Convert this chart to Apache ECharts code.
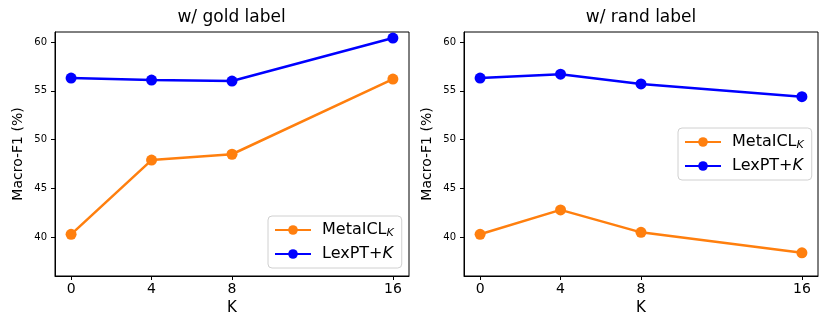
<!DOCTYPE html>
<html>
<head>
<meta charset="utf-8">
<script src="https://cdn.jsdelivr.net/npm/echarts@6/dist/echarts.min.js"></script>
<style>
  html, body { margin: 0; padding: 0; background: #fff; }
  #chart { width: 830px; height: 332px; }
</style>
</head>
<body>
<div id="chart"></div>
<script>
// K shots on the x axis
var kValues = [0, 4, 8, 16];
var xTicks = [0, 4, 8, 16];
var yTicks = [40, 45, 50, 55, 60];

// w/ gold label
var goldMetaICL = [40.3, 47.9, 48.5, 56.2];
var goldLexPT = [56.3, 56.1, 56.0, 60.4];

// w/ rand label
var randMetaICL = [40.3, 42.8, 40.5, 38.4];
var randLexPT = [56.3, 56.7, 55.7, 54.4];

var ORANGE = '#ff7f0e';
var BLUE = '#0000ff';
var FONT = 'DejaVu Sans';

function pairs(ys) {
    return kValues.map(function(k, i) { return [k, ys[i]]; });
}

function lineSeries(name, color, ys, idx) {
    return {
        name: name,
        type: 'line',
        xAxisIndex: idx,
        yAxisIndex: idx,
        data: pairs(ys),
        symbol: 'circle',
        symbolSize: 11,
        color: color,
        lineStyle: { color: color, width: 2.5 },
        itemStyle: { color: color },
        emphasis: { disabled: true },
        z: name === 'LexPT+K' ? 3 : 2
    };
}

function xAxisFor(idx) {
    return {
        type: 'value',
        gridIndex: idx,
        min: -0.8,
        max: 16.8,
        name: 'K',
        nameLocation: 'middle',
        nameGap: 25,
        nameTextStyle: { fontFamily: FONT, fontSize: 15, color: '#000' },
        axisLine: { show: true, onZero: false, lineStyle: { color: '#000', width: 1 } },
        axisTick: { show: true, length: 4, customValues: xTicks, lineStyle: { color: '#000' } },
        axisLabel: { customValues: xTicks, margin: 6, fontFamily: FONT, fontSize: 14, color: '#000' },
        splitLine: { show: false }
    };
}

function yAxisFor(idx) {
    return {
        type: 'value',
        gridIndex: idx,
        min: 36.03,
        max: 61.02,
        name: 'Macro-F1 (%)',
        nameLocation: 'middle',
        nameGap: 30,
        nameTextStyle: { fontFamily: FONT, fontSize: 14, color: '#000' },
        axisLine: { show: true, onZero: false, lineStyle: { color: '#000', width: 1 } },
        axisTick: { show: true, length: 4, customValues: yTicks, lineStyle: { color: '#000' } },
        axisLabel: { customValues: yTicks, margin: 8, fontFamily: FONT, fontSize: 10, color: '#000' },
        splitLine: { show: false }
    };
}

function legendAt(left, top) {
    return {
        orient: 'vertical',
        left: left,
        top: top,
        data: ['MetaICL', 'LexPT+K'],
        itemWidth: 36,
        itemHeight: 12,
        itemGap: 7,
        padding: [6, 8, 6, 6],
        borderColor: '#d0d0d0',
        borderWidth: 1,
        borderRadius: 4,
        backgroundColor: 'rgba(255,255,255,0.8)',
        selectedMode: false,
        formatter: function(name) {
            return name === 'MetaICL' ? 'MetaICL{sub|K}' : 'LexPT+{it|K}';
        },
        textStyle: {
            fontFamily: FONT,
            fontSize: 16,
            color: '#000',
            padding: [0, 0, 0, 6],
            rich: {
                sub: { fontFamily: FONT, fontSize: 11, fontStyle: 'italic', color: '#000', padding: [7, 0, 0, 0] },
                it: { fontFamily: FONT, fontSize: 16, fontStyle: 'italic', color: '#000' }
            }
        }
    };
}

var chart = echarts.init(document.getElementById('chart'), null, { renderer: 'canvas' });

chart.setOption({
    animation: false,
    backgroundColor: '#fff',
    title: [
        { text: 'w/ gold label', left: 231.6, top: 9, padding: 0, textAlign: 'center',
          textStyle: { fontFamily: FONT, fontSize: 17, fontWeight: 'normal', color: '#000' } },
        { text: 'w/ rand label', left: 641, top: 9, padding: 0, textAlign: 'center',
          textStyle: { fontFamily: FONT, fontSize: 17, fontWeight: 'normal', color: '#000' } }
    ],
    grid: [
        { left: 55, top: 32, width: 354, height: 244, show: true, borderColor: '#000', borderWidth: 1, backgroundColor: 'transparent' },
        { left: 464, top: 32, width: 354, height: 244, show: true, borderColor: '#000', borderWidth: 1, backgroundColor: 'transparent' }
    ],
    xAxis: [xAxisFor(0), xAxisFor(1)],
    yAxis: [yAxisFor(0), yAxisFor(1)],
    legend: [legendAt(268, 216), legendAt(678, 128)],
    series: [
        lineSeries('MetaICL', ORANGE, goldMetaICL, 0),
        lineSeries('LexPT+K', BLUE, goldLexPT, 0),
        lineSeries('MetaICL', ORANGE, randMetaICL, 1),
        lineSeries('LexPT+K', BLUE, randLexPT, 1)
    ]
});
</script>
</body>
</html>
